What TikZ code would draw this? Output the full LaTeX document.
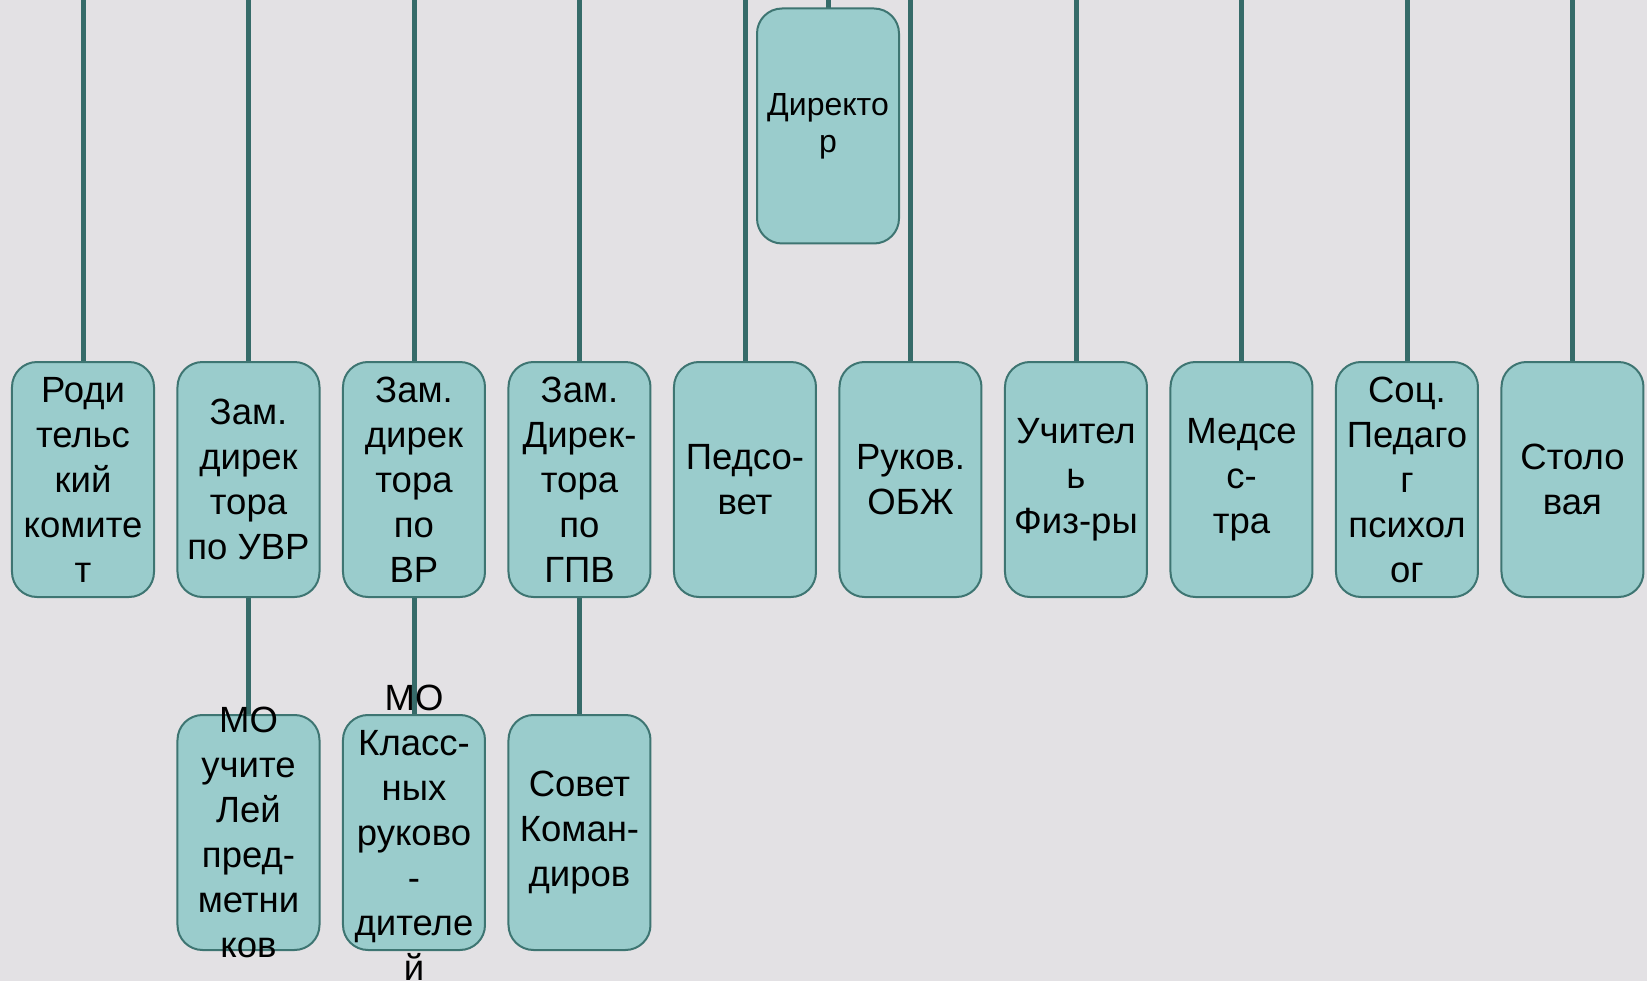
\documentclass[tikz,border=0pt]{standalone}
\usepackage{fontspec}
\setmainfont{Liberation Sans}
\usetikzlibrary{matrix,backgrounds}

\definecolor{bgcol}{HTML}{E3E1E4}
\definecolor{boxfill}{HTML}{9ACCCC}
\definecolor{boxdraw}{HTML}{3E7572}
\definecolor{linkcol}{HTML}{366B69}

\newcommand{\boxtext}[1]{\parbox[c][235pt][c]{142pt}{\centering #1}}

\tikzset{
  orgbox/.style={draw=boxdraw, line width=2pt, fill=boxfill, rounded corners=25pt,
    minimum width=142pt, minimum height=235pt, inner sep=0pt, outer sep=0pt},
  link/.style={draw=linkcol, line width=5pt}
}

\begin{document}
\begin{tikzpicture}[x=1pt, y=-1pt]
    \useasboundingbox (0,0) rectangle (1647,981);
    \coordinate (top) at (0,0);
    \matrix (m) [matrix of nodes, anchor=north west, inner sep=0pt, outer sep=0pt,
      nodes={orgbox, anchor=center, font=\fontsize{36.5}{45}\selectfont},
    column sep=21.5pt, row sep=116pt] at (11,361) {
      \boxtext{Роди\\тельс\\кий\\комите\\т} & \boxtext{Зам.\\дирек\\тора\\по УВР} & \boxtext{Зам.\\дирек\\тора\\по\\ВР} & \boxtext{Зам.\\Дирек-\\тора\\по\\ГПВ} & \boxtext{Педсо-\\вет} & \boxtext{Руков.\\ОБЖ} & \boxtext{Учител\\ь\\Физ-ры} & \boxtext{Медсе\\с-\\тра} & \boxtext{Соц.\\Педаго\\г\\психол\\ог} & \boxtext{Столо\\вая} \\
      & \boxtext{МО\\учите\\Лей\\пред-\\метни\\ков} & \boxtext{МО\\Класс-\\ных\\руково\\-\\дителе\\й} & \boxtext{Совет\\Коман-\\диров} \\
    };
    \node[orgbox, font=\fontsize{32}{37}\selectfont] (dir) at (828,126) {\boxtext{Директо\\р}};
    \begin{scope}[on background layer]
      \fill[bgcol] (0,0) rectangle (1647,981);
      \draw[link] (dir.north) -- (dir.north |- top);
      \foreach \c in {1,...,10}
        \draw[link] (m-1-\c.north) -- (m-1-\c.north |- top);
      \foreach \c in {2,3,4}
        \draw[link] (m-1-\c.south) -- (m-2-\c.north);
    \end{scope}
  \end{tikzpicture}
\end{document}
